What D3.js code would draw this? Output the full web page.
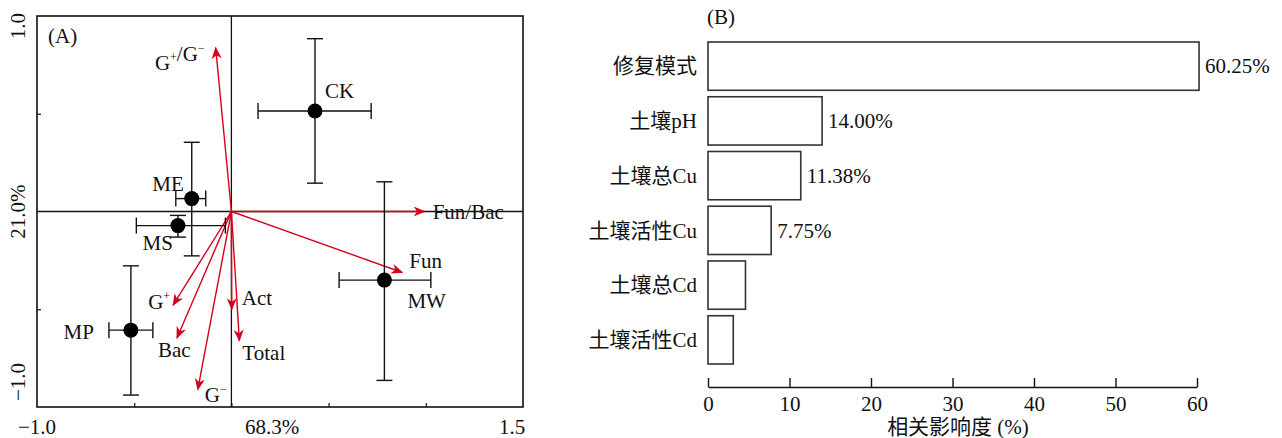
<!DOCTYPE html>
<html>
<head>
<meta charset="utf-8">
<script src="https://cdn.jsdelivr.net/npm/d3@7"></script>
<style>
  html, body { margin: 0; padding: 0; background: #fff; }
  svg { display: block; }
  text { font-family: "Liberation Serif", "Times New Roman", "Noto Sans CJK SC", serif; fill: #111; }
</style>
</head>
<body>
<svg id="chart" width="1282" height="438"></svg>
<script>
// ---- Panel A: PCA biplot of treatment scores and variable loadings ----
const groups = ["CK", "ME", "MS", "MW", "MP"];
const pc1    = [0.430, -0.204, -0.275, 0.787, -0.517];
const pc2    = [0.514, 0.066, -0.072, -0.351, -0.607];
const pc1Lo  = [0.137, -0.286, -0.489, 0.554, -0.630];
const pc1Hi  = [0.719, -0.132, -0.031, 1.026, -0.404];
const pc2Lo  = [0.145, -0.227, -0.131, -0.864, -0.939];
const pc2Hi  = [0.884, 0.354, -0.020, 0.152, -0.278];

const variables = ["G+/G-", "Fun/Bac", "Fun", "G+", "Bac", "G-", "Act", "Total"];
const loadX     = [-0.081, 0.994, 0.879, -0.300, -0.280, -0.173, 0.002, 0.041];
const loadY     = [0.838, 0.000, -0.312, -0.479, -0.647, -0.911, -0.500, -0.661];

const axisXLabel = "68.3%";
const axisYLabel = "21.0%";
const xTickLabels = ["\u22121.0", "1.5"];
const yTickLabels = ["1.0", "\u22121.0"];

// ---- Panel B: relative influence of environmental factors ----
const factors   = ["修复模式", "土壤pH", "土壤总Cu", "土壤活性Cu", "土壤总Cd", "土壤活性Cd"];
const influence = [60.25, 14.00, 11.38, 7.75, 4.6, 3.1];
const labelledBars = 4;
const influenceTicks = [0, 10, 20, 30, 40, 50, 60];
const influenceTitle = "相关影响度 (%)";

const svg = d3.select("#chart");
const RED = "#d6001c";

// ---------------- Panel A ----------------
const A = { left: 37, right: 523, top: 16, bottom: 407 };
const x = d3.scaleLinear().domain([-1, 1.5]).range([A.left, A.right]);
const y = d3.scaleLinear().domain([-1, 1]).range([A.bottom, A.top]);

const gA = svg.append("g");

// inward ticks
gA.append("g")
  .attr("transform", `translate(0,${A.bottom})`)
  .call(d3.axisBottom(x).tickValues([-0.5, 0, 0.5, 1.0]).tickSizeInner(-4).tickSizeOuter(0).tickFormat(""))
  .call(g => g.select(".domain").remove())
  .selectAll("line").attr("stroke", "#111").attr("stroke-width", 1.2);
gA.append("g")
  .attr("transform", `translate(${A.left},0)`)
  .call(d3.axisLeft(y).tickValues([-0.5, 0.5]).tickSizeInner(-4).tickSizeOuter(0).tickFormat(""))
  .call(g => g.select(".domain").remove())
  .selectAll("line").attr("stroke", "#111").attr("stroke-width", 1.2);

// zero lines
gA.append("line").attr("x1", x(0)).attr("x2", x(0)).attr("y1", A.top).attr("y2", A.bottom)
  .attr("stroke", "#111").attr("stroke-width", 1.3);
gA.append("line").attr("x1", A.left).attr("x2", A.right).attr("y1", y(0)).attr("y2", y(0))
  .attr("stroke", "#111").attr("stroke-width", 1.3);

// frame
gA.append("rect").attr("x", A.left).attr("y", A.top)
  .attr("width", A.right - A.left).attr("height", A.bottom - A.top)
  .attr("fill", "none").attr("stroke", "#111").attr("stroke-width", 1.6);

// tick labels and axis titles
const fs = 21;
gA.append("text").attr("x", x(-1)).attr("y", 434).attr("text-anchor", "middle")
  .attr("font-size", fs).text(xTickLabels[0]);
gA.append("text").attr("x", x(1.5) - 11).attr("y", 434).attr("text-anchor", "middle")
  .attr("font-size", fs).text(xTickLabels[1]);
gA.append("text").attr("x", 272).attr("y", 434).attr("text-anchor", "middle")
  .attr("font-size", fs).text(axisXLabel);
gA.append("text").attr("transform", `translate(25,${y(1) - 3}) rotate(-90)`)
  .attr("text-anchor", "end").attr("font-size", fs).text(yTickLabels[0]);
gA.append("text").attr("transform", `translate(25,${y(-1) - 6}) rotate(-90)`)
  .attr("text-anchor", "start").attr("font-size", fs).text(yTickLabels[1]);
gA.append("text").attr("transform", `translate(25,${y(0)}) rotate(-90)`)
  .attr("text-anchor", "middle").attr("font-size", fs).text(axisYLabel);
gA.append("text").attr("x", 48).attr("y", 43).attr("font-size", fs).text("(A)");

// arrowhead marker
svg.append("defs").append("marker")
  .attr("id", "arrowhead")
  .attr("viewBox", "0 0 12 10")
  .attr("refX", 11).attr("refY", 5)
  .attr("markerWidth", 12).attr("markerHeight", 10)
  .attr("markerUnits", "userSpaceOnUse")
  .attr("orient", "auto")
  .append("path")
  .attr("d", "M0,0 L12,5 L0,10 L3.5,5 Z")
  .attr("fill", RED);

// loading arrows
const loadings = variables.map((v, i) => ({ v, lx: loadX[i], ly: loadY[i] }));
gA.selectAll("line.load").data(loadings).join("line")
  .attr("class", "load")
  .attr("x1", x(0)).attr("y1", y(0))
  .attr("x2", d => x(d.lx)).attr("y2", d => y(d.ly))
  .attr("stroke", RED).attr("stroke-width", 1.4)
  .attr("marker-end", "url(#arrowhead)");

// label placement relative to arrow tips (px)
const loadLabelPos = {
  "G+/G-":  { dx: -11, dy: 22, anchor: "end" },
  "Fun/Bac":{ dx: 8,   dy: 7,  anchor: "start" },
  "Fun":    { dx: 7,   dy: -4, anchor: "start" },
  "G+":     { dx: -3,  dy: 4,  anchor: "end" },
  "Bac":    { dx: -19, dy: 19, anchor: "start" },
  "G-":     { dx: 7,   dy: 12, anchor: "start" },
  "Act":    { dx: 10,  dy: -4, anchor: "start" },
  "Total":  { dx: 3,   dy: 19, anchor: "start" }
};

// write names like G+ / G- with superscript signs
function richLabel(sel, name) {
  const parts = name.split("/");
  parts.forEach((p, k) => {
    if (k > 0) sel.append("tspan").text("/");
    const m = p.match(/^(G)([+-])$/);
    if (m) {
      sel.append("tspan").text(m[1]);
      sel.append("tspan").attr("dy", -9).attr("font-size", 12)
        .text(m[2] === "+" ? "+" : "\u2212");
      sel.append("tspan").attr("dy", 9).text("");
    } else {
      sel.append("tspan").text(p);
    }
  });
}

loadings.forEach(d => {
  const p = loadLabelPos[d.v];
  const t = gA.append("text")
    .attr("x", x(d.lx) + p.dx).attr("y", y(d.ly) + p.dy)
    .attr("text-anchor", p.anchor).attr("font-size", fs);
  richLabel(t, d.v);
});

// treatment scores with error bars
const scores = groups.map((g, i) => ({
  g, cx: pc1[i], cy: pc2[i], xl: pc1Lo[i], xh: pc1Hi[i], yl: pc2Lo[i], yh: pc2Hi[i]
}));
const cap = 8;
const eb = gA.append("g").attr("stroke", "#111").attr("stroke-width", 1.4);
scores.forEach(d => {
  eb.append("line").attr("x1", x(d.xl)).attr("x2", x(d.xh)).attr("y1", y(d.cy)).attr("y2", y(d.cy));
  eb.append("line").attr("x1", x(d.xl)).attr("x2", x(d.xl)).attr("y1", y(d.cy) - cap).attr("y2", y(d.cy) + cap);
  eb.append("line").attr("x1", x(d.xh)).attr("x2", x(d.xh)).attr("y1", y(d.cy) - cap).attr("y2", y(d.cy) + cap);
  eb.append("line").attr("x1", x(d.cx)).attr("x2", x(d.cx)).attr("y1", y(d.yl)).attr("y2", y(d.yh));
  eb.append("line").attr("x1", x(d.cx) - cap).attr("x2", x(d.cx) + cap).attr("y1", y(d.yl)).attr("y2", y(d.yl));
  eb.append("line").attr("x1", x(d.cx) - cap).attr("x2", x(d.cx) + cap).attr("y1", y(d.yh)).attr("y2", y(d.yh));
});
gA.selectAll("circle.score").data(scores).join("circle")
  .attr("class", "score")
  .attr("cx", d => x(d.cx)).attr("cy", d => y(d.cy)).attr("r", 7.5)
  .attr("fill", "#000");

const scoreLabelPos = {
  CK: { dx: 10, dy: -13, anchor: "start" },
  ME: { dx: -8, dy: -8, anchor: "end" },
  MS: { dx: -5, dy: 24, anchor: "end" },
  MW: { dx: 23, dy: 28, anchor: "start" },
  MP: { dx: -37, dy: 9, anchor: "end" }
};
scores.forEach(d => {
  const p = scoreLabelPos[d.g];
  gA.append("text").attr("x", x(d.cx) + p.dx).attr("y", y(d.cy) + p.dy)
    .attr("text-anchor", p.anchor).attr("font-size", fs).text(d.g);
});

// ---------------- Panel B ----------------
const xb = d3.scaleLinear().domain([0, 60]).range([708, 1197]);
const yb = d3.scaleBand().domain(factors).range([42, 364]).paddingInner(0.118).paddingOuter(0);
const gB = svg.append("g");
const bars = factors.map((f, i) => ({ f, v: influence[i], i }));

gB.selectAll("rect.bar").data(bars).join("rect")
  .attr("class", "bar")
  .attr("x", xb(0)).attr("y", d => yb(d.f))
  .attr("width", d => xb(d.v) - xb(0)).attr("height", yb.bandwidth())
  .attr("fill", "#fff").attr("stroke", "#333").attr("stroke-width", 1.6);

gB.selectAll("text.val").data(bars.filter(d => d.i < labelledBars)).join("text")
  .attr("class", "val")
  .attr("x", d => xb(d.v) + 6).attr("y", d => yb(d.f) + yb.bandwidth() / 2)
  .attr("dy", "0.35em").attr("font-size", fs)
  .text(d => d.v.toFixed(2) + "%");

gB.selectAll("text.cat").data(bars).join("text")
  .attr("class", "cat")
  .attr("x", 697).attr("y", d => yb(d.f) + yb.bandwidth() / 2)
  .attr("dy", "0.35em").attr("text-anchor", "end").attr("font-size", fs)
  .text(d => d.f);

const axB = gB.append("g").attr("transform", "translate(0,387)")
  .call(d3.axisBottom(xb).tickValues(influenceTicks).tickSizeInner(-9).tickSizeOuter(0).tickPadding(9));
axB.select(".domain").attr("stroke", "#111").attr("stroke-width", 1.4);
axB.selectAll(".tick line").attr("stroke", "#111").attr("stroke-width", 1.4);
axB.selectAll(".tick text").attr("font-size", fs).attr("font-family", "Liberation Serif").attr("fill", "#111");

gB.append("text").attr("x", 958).attr("y", 434).attr("text-anchor", "middle")
  .attr("font-size", fs).text(influenceTitle);
gB.append("text").attr("x", 707).attr("y", 24).attr("font-size", fs).text("(B)");
</script>
</body>
</html>
